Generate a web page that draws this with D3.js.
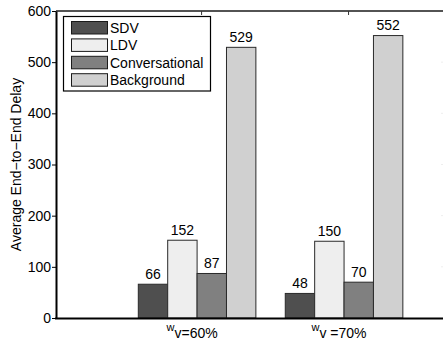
<!DOCTYPE html>
<html>
<head>
<meta charset="utf-8">
<script src="https://cdn.jsdelivr.net/npm/d3@7/dist/d3.min.js"></script>
<style>
  html, body { margin: 0; padding: 0; background: #fff; }
  svg { display: block; }
  text { font-family: "Liberation Sans", Arial, Helvetica, sans-serif; fill: #000; }
</style>
</head>
<body>
<svg id="chart" width="443" height="339"></svg>
<script>
// Grouped bar chart: average end-to-end delay per traffic class
const groups = ["60%", "70%"];              // w_v share for each group
const groupSep = ["", " "];                 // spacing after the subscript v
const series = ["SDV", "LDV", "Conversational", "Background"];
const colors = ["#4f4f4f", "#eeeeee", "#808080", "#d0d0d0"];
const sdv = [66, 48];
const ldv = [152, 150];
const conversational = [87, 70];
const background = [529, 552];
const yTicks = [0, 100, 200, 300, 400, 500, 600];

const values = [sdv, ldv, conversational, background];

const svg = d3.select("#chart");
const plotL = 56, plotR = 444, plotT = 11, plotB = 318;

const x = d3.scaleLinear().domain([0.04, 2.68]).range([plotL, plotR]);
const y = d3.scaleLinear().domain([0, 600]).range([plotB, plotT]);
const barW = 0.2;

// bars
const gBars = svg.append("g");
groups.forEach((g, gi) => {
  series.forEach((s, si) => {
    const v = values[si][gi];
    const cx = (gi + 1) + (si - 1.5) * barW;
    const x0 = x(cx - barW / 2), x1 = x(cx + barW / 2);
    gBars.append("rect")
      .attr("x", x0).attr("y", y(v))
      .attr("width", x1 - x0).attr("height", y(0) - y(v))
      .attr("fill", colors[si])
      .attr("stroke", "#2a2a2a").attr("stroke-width", 1);
    gBars.append("text")
      .attr("x", (x0 + x1) / 2).attr("y", y(v + 11))
      .attr("text-anchor", "middle")
      .attr("font-size", 14)
      .text(v);
  });
});

// frame: top border
svg.append("line").attr("x1", plotL).attr("x2", plotR).attr("y1", y(600)).attr("y2", y(600))
  .attr("stroke", "#1a1a1a").attr("stroke-width", 1.5);
// top ticks at group centers (pointing inward)
groups.forEach((g, gi) => {
  svg.append("line").attr("x1", x(gi + 1) + 4.5).attr("x2", x(gi + 1) + 4.5)
    .attr("y1", y(600)).attr("y2", y(600) + 4)
    .attr("stroke", "#333").attr("stroke-width", 1);
});
// faint right-side ticks
yTicks.slice(1, -1).forEach(t => {
  svg.append("line").attr("x1", plotR - 3).attr("x2", plotR).attr("y1", y(t)).attr("y2", y(t))
    .attr("stroke", "#eeeeee").attr("stroke-width", 1);
});

// y axis
const yAxis = d3.axisLeft(y).tickValues(yTicks).tickSize(4).tickSizeOuter(0).tickPadding(1);
const gy = svg.append("g").attr("transform", `translate(${plotL},0)`).call(yAxis);
gy.select(".domain").attr("stroke", "#000").attr("stroke-width", 2);
gy.selectAll(".tick line").attr("stroke", "#000");
gy.selectAll(".tick text").attr("font-size", 14)
  .attr("font-family", "'Liberation Sans', Arial, sans-serif").attr("fill", "#000");

// x baseline
svg.append("line").attr("x1", plotL - 1).attr("x2", plotR).attr("y1", plotB + 0.5).attr("y2", plotB + 0.5)
  .attr("stroke", "#000").attr("stroke-width", 2);

// x category labels: w_v=NN%
groups.forEach((g, gi) => {
  const t = svg.append("text")
    .attr("x", x(gi + 1) - 5).attr("y", 337.5)
    .attr("text-anchor", "middle")
    .attr("font-size", 14);
  t.append("tspan").attr("font-size", 11).attr("dy", -6.5).text("w");
  t.append("tspan").attr("dy", 6.5).text("v" + groupSep[gi] + "=" + g);
});

// y axis title
svg.append("text")
  .attr("transform", `translate(20.5,${(plotT + plotB) / 2}) rotate(-90)`)
  .attr("text-anchor", "middle")
  .attr("font-size", 14)
  .text("Average End\u2212to\u2212End Delay");

// legend
const lg = svg.append("g");
lg.append("rect").attr("x", 63.5).attr("y", 16.5).attr("width", 147).attr("height", 74.5)
  .attr("fill", "#fff").attr("stroke", "#000").attr("stroke-width", 1.2);
series.forEach((s, si) => {
  const ry = 21.5 + si * 17.4;
  lg.append("rect").attr("x", 71.5).attr("y", ry).attr("width", 36).attr("height", 12.5)
    .attr("fill", colors[si]).attr("stroke", "#1a1a1a").attr("stroke-width", 1);
  lg.append("text").attr("x", 110).attr("y", ry + 11.5).attr("font-size", 14).text(s);
});
</script>
</body>
</html>
